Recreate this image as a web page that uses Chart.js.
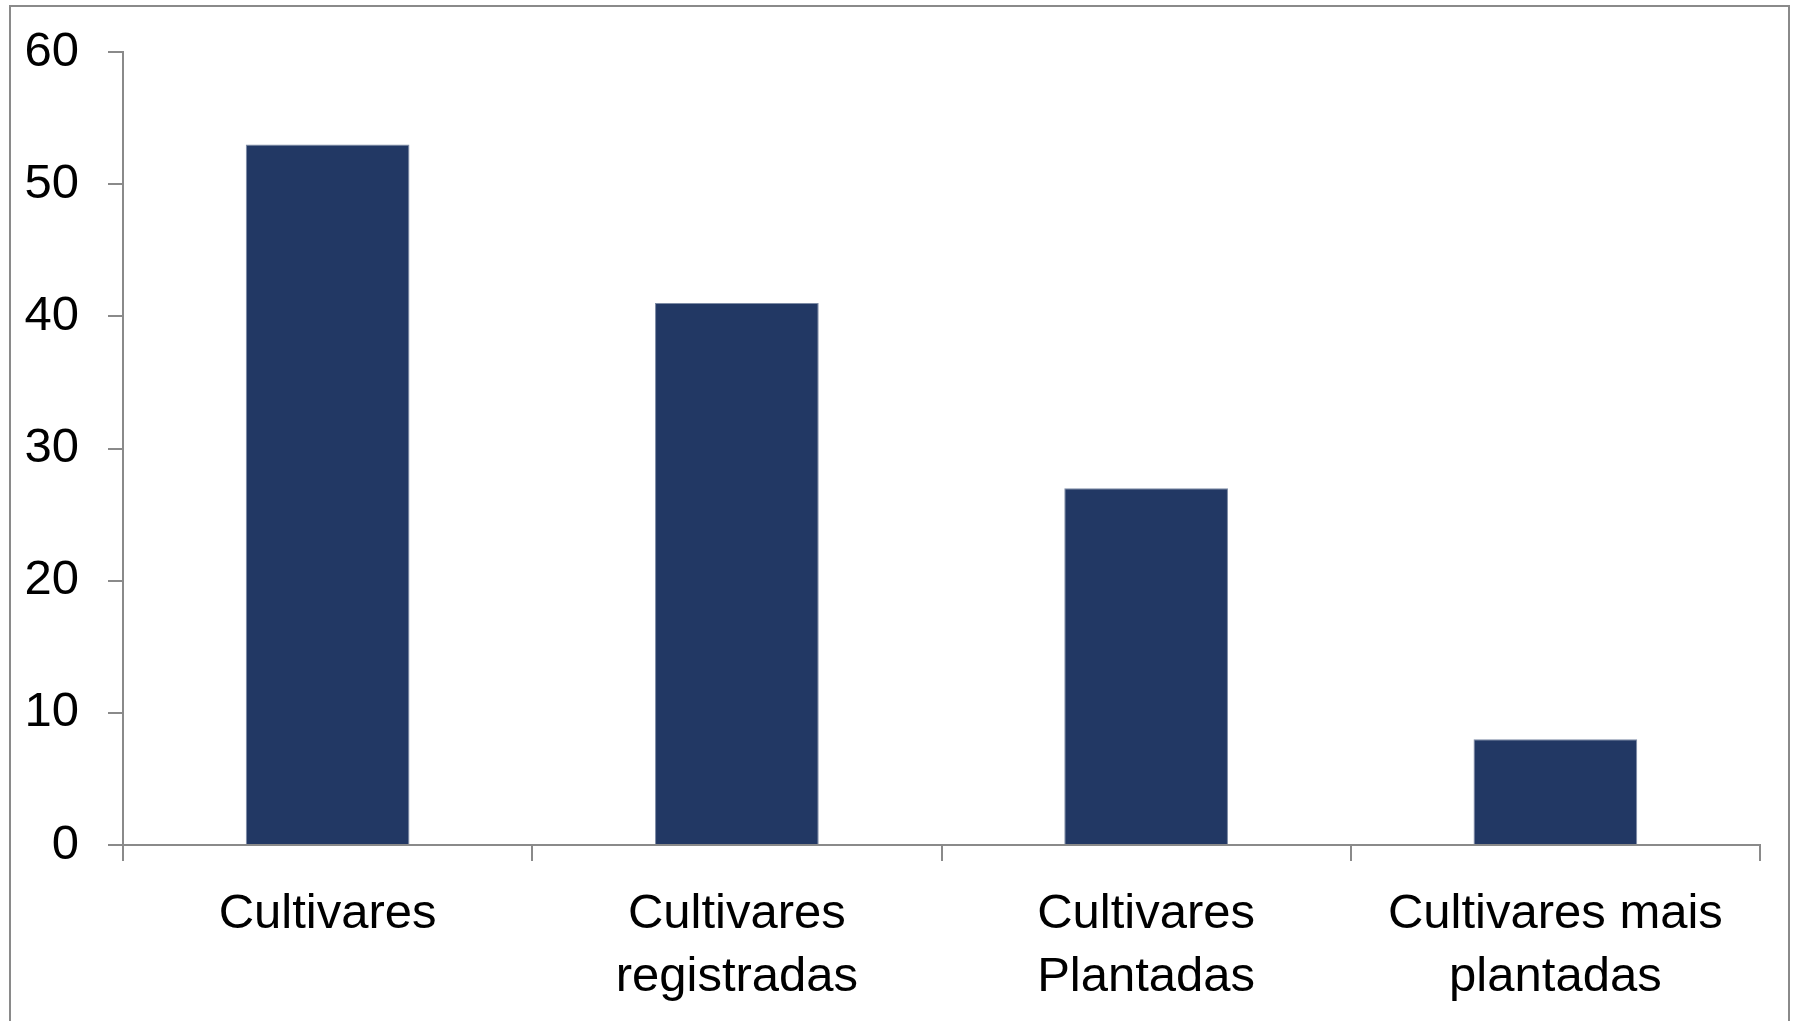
<!DOCTYPE html>
<html>
<head>
<meta charset="utf-8">
<script src="https://cdn.jsdelivr.net/npm/chart.js@4/dist/chart.umd.min.js"></script>
<style>
  html, body { margin: 0; padding: 0; background: #fff; overflow: hidden; }
  .frame {
    position: absolute; left: 9px; top: 5px; width: 1781px; height: 1100px;
    border: 2px solid #8a8a8a; box-sizing: border-box;
  }
  .wrap { position: absolute; left: 0; top: 0; width: 1802px; height: 1021px; }
</style>
</head>
<body>
<div class="frame"></div>
<div class="wrap"><canvas id="chart"></canvas></div>
<script>
// Categories (multi-line labels as in the picture)
const categories = [
  ['Cultivares'],
  ['Cultivares', 'registradas'],
  ['Cultivares', 'Plantadas'],
  ['Cultivares mais', 'plantadas']
];

// Series values
const values = [53, 41, 27, 8];

// Y axis range
const yMin = 0;
const yMax = 60;
const yStep = 10;

const AXIS_GRAY = '#8a8a8a';
const BAR_COLOR = '#223864';
const FONT = '"Liberation Sans", Arial, sans-serif';

new Chart(document.getElementById('chart'), {
  type: 'bar',
  data: {
    labels: categories,
    datasets: [{
      data: values,
      backgroundColor: BAR_COLOR,
      borderColor: '#7d8ba5',
      borderWidth: 1,
      barPercentage: 0.4,
      categoryPercentage: 1
    }]
  },
  options: {
    responsive: true,
    maintainAspectRatio: false,
    animation: false,
    layout: { padding: { top: 52, right: 42, left: 0, bottom: 0 } },
    plugins: {
      legend: { display: false },
      tooltip: { enabled: false }
    },
    scales: {
      x: {
        afterFit: (s) => { s.height = 176; s.paddingLeft = 0; s.paddingRight = 0; },
        border: { color: AXIS_GRAY, width: 2 },
        grid: {
          offset: true,
          drawOnChartArea: false,
          tickLength: 16,
          color: AXIS_GRAY,
          lineWidth: 2
        },
        ticks: {
          color: '#000',
          padding: 22,
          maxRotation: 0,
          autoSkip: false,
          font: { family: FONT, size: 49, lineHeight: 1.29 }
        }
      },
      y: {
        min: yMin,
        max: yMax,
        afterFit: (s) => { s.width = 123; s.paddingTop = 0; s.paddingBottom = 0; },
        border: { color: AXIS_GRAY, width: 2 },
        grid: {
          drawOnChartArea: false,
          tickLength: 15,
          color: AXIS_GRAY,
          lineWidth: 2
        },
        ticks: {
          stepSize: yStep,
          color: '#000',
          padding: 29,
          font: { family: FONT, size: 49 }
        }
      }
    }
  }
});
</script>
</body>
</html>
